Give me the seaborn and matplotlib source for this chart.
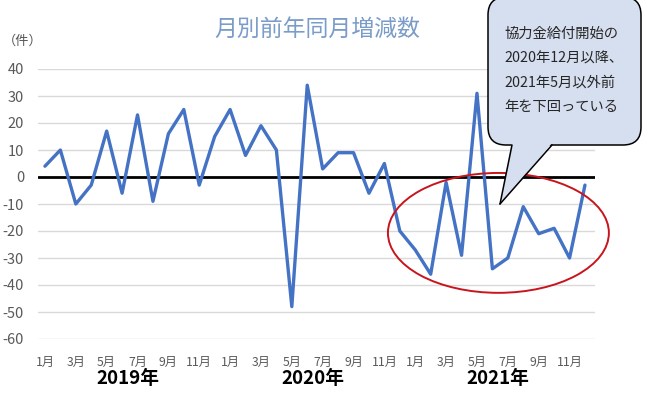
import matplotlib
matplotlib.use("Agg")
import matplotlib.pyplot as plt
import seaborn as sns
import pandas as pd
import numpy as np
from matplotlib.patches import Ellipse, FancyBboxPatch, Polygon
from matplotlib.lines import Line2D

# ---- data ----
years = ["2019年", "2020年", "2021年"]
months = list(range(1, 13))
values_2019 = [4, 10, -10, -3, 17, -6, 23, -9, 16, 25, -3, 15]
values_2020 = [25, 8, 19, 10, -48, 34, 3, 9, 9, -6, 5, -20]
values_2021 = [-27, -36, -2, -29, 31, -34, -30, -11, -21, -19, -30, -3]
y_ticks = [40, 30, 20, 10, 0, -10, -20, -30, -40, -50, -60]
y_tick_labels = ["40", "30", "20", "10", "0", "-10", "-20", "-30", "-40", "-50", "-60"]
title = "月別前年同月増減数"
unit_label = "（件）"
callout_lines = ["協力金給付開始の", "2020年12月以降、", "2021年5月以外前", "年を下回っている"]

values = values_2019 + values_2020 + values_2021
df = pd.DataFrame({"idx": np.arange(len(values)), "value": values})
tick_pos = [i for i in range(len(values)) if i % 2 == 0]
tick_labels = [f"{months[i % 12]}月" for i in tick_pos]

sns.set_theme(style="white")
plt.rcParams["font.family"] = ["Noto Sans CJK JP", "DejaVu Sans"]

W, H = 646, 395
fig = plt.figure(figsize=(W / 100, H / 100), dpi=100)
ax = fig.add_axes([38 / W, 1 - 339 / H, (595 - 38) / W, (339 - 69) / H])

sns.lineplot(data=df, x="idx", y="value", ax=ax, color="#4472C4", linewidth=2.4, zorder=4)
ax.axhline(0, color="black", linewidth=2.0, zorder=3)

ax.set_xlim(-0.45, 35.65)
ax.set_ylim(-60, 40)
ax.set_yticks(y_ticks)
ax.set_yticklabels(y_tick_labels)
ax.set_xticks(tick_pos)
ax.set_xticklabels(tick_labels)
ax.grid(axis="y", color="#d9d9d9", linewidth=1.0, zorder=0)
ax.grid(axis="x", visible=False)
for s in ax.spines.values():
    s.set_visible(False)
ax.tick_params(axis="y", length=0, pad=10, labelsize=10.5, labelcolor="#595959")
ax.tick_params(axis="x", length=0, pad=12, labelsize=8.8, labelcolor="#595959")
ax.set_xlabel("")
ax.set_ylabel("")

# year labels
for k, yr in enumerate(years):
    ax.text(5.35 + 12 * k, -74.5, yr, ha="center", va="center", fontsize=13.5,
            fontweight="bold", color="black", clip_on=False)

# title & unit
fig.text(317 / W, 1 - 29 / H, title, ha="center", va="center", fontsize=16.5, color="#7a9cc8")
fig.text(23 / W, 1 - 41 / H, unit_label, ha="center", va="center", fontsize=9.5, color="#595959")

# red ellipse
ell = Ellipse((29.39, -20.7), 14.32, 44.4, fill=False, edgecolor="#c8141c", linewidth=1.4,
              zorder=5, clip_on=False)
ax.add_patch(ell)

# callout (pixel coordinates)
def px(x, y):
    return (x, H - y)

box_fc = "#d6dfef"
box = FancyBboxPatch(px(488, 145), 641 - 488, 148, boxstyle="round,pad=0,rounding_size=18",
                     transform=None, facecolor=box_fc, edgecolor="black", linewidth=1.1, zorder=10)
fig.patches.append(box)
tail = Polygon([px(512, 143), px(500, 204), px(552, 143)], closed=True, transform=None,
               facecolor=box_fc, edgecolor="none", zorder=11)
fig.patches.append(tail)
for (x0, y0), (x1, y1) in [((512, 145), (500, 204)), ((500, 204), (552, 145))]:
    a, b = px(x0, y0), px(x1, y1)
    fig.lines.append(Line2D([a[0], b[0]], [a[1], b[1]], transform=None, color="black",
                            linewidth=1.1, zorder=12))

for i, line in enumerate(callout_lines):
    fig.text(504 / W, 1 - (34 + 24.5 * i) / H, line, ha="left", va="center", fontsize=10.3,
             color="#262626", zorder=13)

fig.savefig("out.png", dpi=100)
